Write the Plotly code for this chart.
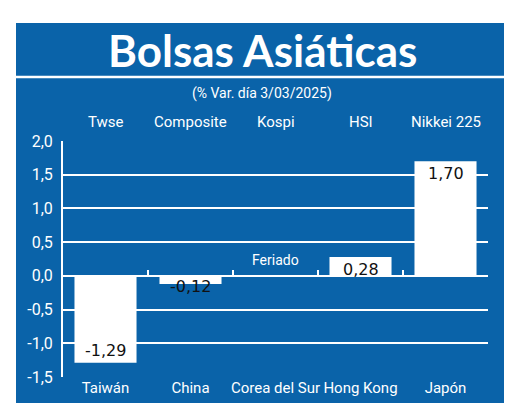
import plotly.graph_objects as go

countries = ["Taiwán", "China", "Corea del Sur", "Hong Kong", "Japón"]
indices = ["Twse", "Composite", "Kospi", "HSI", "Nikkei 225"]
values = [-1.29, -0.12, None, 0.28, 1.70]
y_ticks = [2.0, 1.5, 1.0, 0.5, 0.0, -0.5, -1.0, -1.5]
holiday_text = "Feriado"

BLUE = "#0a63a9"
W, H = 520, 420
L, R, T, B = 63, 32, 141, 43
ymin, ymax = -1.5, 2.0
LBL = "Roboto, sans-serif"

def fmt(v):
    return f"{v:.2f}".replace(".", ",")

def fmt1(v):
    return f"{v:.1f}".replace(".", ",")

# paper coordinates relative to plot area
def px(x):
    return (x - L) / (W - L - R)

def py(y):
    return 1 - (y - T) / (H - T - B)

fig = go.Figure()
fig.add_trace(go.Bar(
    x=countries, y=[v if v is not None else 0 for v in values],
    marker=dict(color="white", line=dict(width=0)),
    width=0.73, hoverinfo="skip", showlegend=False,
))
# invisible trace to drive the zero-line axis with boundary ticks
fig.add_trace(go.Scatter(
    x=countries, y=[0] * len(countries), xaxis="x2", yaxis="y",
    mode="markers", marker=dict(opacity=0), hoverinfo="skip", showlegend=False,
))

VAL_FONT = dict(family="DejaVu Sans, sans-serif", size=16, color="#111")
annotations = []
for c, v in zip(countries, values):
    if v is None:
        annotations.append(dict(x=c, y=0, xref="x", yref="y", text=holiday_text,
                                showarrow=False, yanchor="bottom", yshift=6,
                                font=dict(family=LBL, size=14, color="white")))
        continue
    if v >= 0:
        annotations.append(dict(x=c, y=v, xref="x", yref="y", text=fmt(v), showarrow=False,
                                yanchor="top", yshift=-1, font=VAL_FONT))
    elif abs(v) < 0.3:
        annotations.append(dict(x=c, y=0, xref="x", yref="y", text=fmt(v), showarrow=False,
                                yanchor="top", yshift=1, font=VAL_FONT))
    else:
        annotations.append(dict(x=c, y=v, xref="x", yref="y", text=fmt(v), showarrow=False,
                                yanchor="bottom", yshift=1, font=VAL_FONT))

for c, name in zip(countries, indices):
    annotations.append(dict(x=c, y=1, xref="x", yref="paper", text=name, showarrow=False,
                            yanchor="bottom", yshift=8,
                            font=dict(family=LBL, size=15, color="white")))

annotations.append(dict(x=px(262), y=py(50), xref="paper", yref="paper",
                        text="<b>Bolsas Asiáticas</b>", showarrow=False,
                        xanchor="center", yanchor="middle",
                        font=dict(family="Lato, sans-serif", size=44, color="white")))
annotations.append(dict(x=px(262), y=py(93), xref="paper", yref="paper",
                        text="(% Var. día 3/03/2025)", showarrow=False,
                        xanchor="center", yanchor="middle",
                        font=dict(family=LBL, size=14, color="white")))

shapes = [
    dict(type="rect", xref="paper", yref="paper", x0=px(16), x1=px(504), y0=py(403), y1=py(23),
         fillcolor=BLUE, line=dict(width=0), layer="below"),
    dict(type="line", xref="paper", yref="paper", x0=px(16), x1=px(504), y0=py(77), y1=py(77),
         line=dict(color="white", width=2.5), layer="below"),
]

fig.update_layout(
    width=W, height=H,
    margin=dict(l=L, r=R, t=T, b=B, autoexpand=False),
    paper_bgcolor="white", plot_bgcolor="rgba(0,0,0,0)",
    bargap=0.27,
    shapes=shapes, annotations=annotations,
    xaxis=dict(type="category", categoryorder="array", categoryarray=countries,
               showgrid=False, zeroline=False, showline=False, ticks="",
               tickangle=0, automargin=False,
               tickfont=dict(family=LBL, size=15, color="white"),
               ticklabelstandoff=0, fixedrange=True),
    xaxis2=dict(type="category", categoryorder="array", categoryarray=countries,
                overlaying="x", anchor="free", position=(0 - ymin) / (ymax - ymin),
                showline=True, linecolor="white", linewidth=2,
                ticks="inside", tickson="boundaries", ticklen=5, tickcolor="white", tickwidth=1.5,
                showticklabels=False, showgrid=False, zeroline=False, matches="x",
                automargin=False),
    yaxis=dict(range=[ymin, ymax], tickvals=y_ticks, ticktext=[fmt1(v) for v in y_ticks],
               showgrid=True, gridcolor="white", gridwidth=1.5,
               zeroline=False, showline=True, linecolor="white", linewidth=2,
               ticks="", ticklabelstandoff=5, automargin=False,
               tickfont=dict(family=LBL, size=16, color="white"), fixedrange=True),
)

fig.write_html("out.html")
